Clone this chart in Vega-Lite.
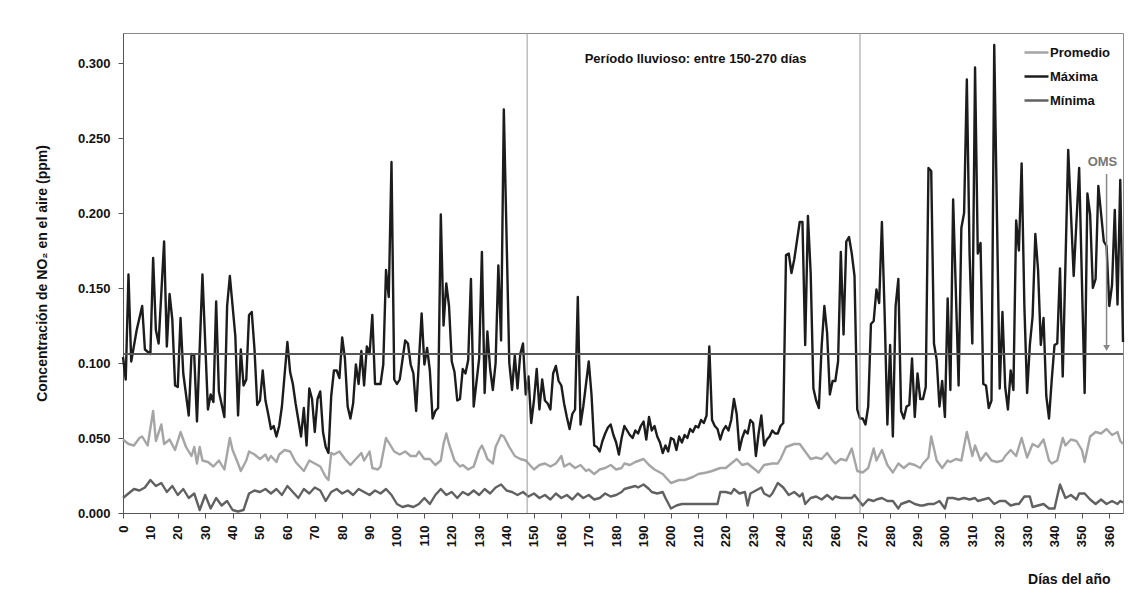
{
  "$schema": "https://vega.github.io/schema/vega-lite/v6.json",
  "width": 1000,
  "height": 480,
  "autosize": {"type": "none"},
  "padding": {"left": 123, "top": 33, "right": 14, "bottom": 91},
  "background": "white",
  "config": {
    "view": {"stroke": "#8a8a8a", "strokeWidth": 1},
    "font": "Liberation Sans",
    "axis": {"domainColor": "#555", "tickColor": "#555", "labelColor": "#111", "titleColor": "#111", "grid": false, "tickSize": 5, "labelFontSize": 13, "labelFontWeight": "bold", "titleFontSize": 14, "titleFontWeight": "bold"},
    "axisX": {"labelOverlap": false, "labelFlush": false, "labelAngle": 270, "labelAlign": "right", "labelBaseline": "middle", "labelPadding": 7, "titleAlign": "right", "titleAnchor": "end", "titleX": 987, "titleY": 66, "titleBaseline": "middle"},
    "axisY": {"labelPadding": 8, "titlePadding": 28}
  },
  "datasets": {
    "vl": [{"d": 147.5}, {"d": 269}],
    "oms": [{"v": 0.106}],
    "series": [
{"s":"Máxima","d":0,"v":0.104},{"s":"Máxima","d":1,"v":0.089},{"s":"Máxima","d":2,"v":0.159},{"s":"Máxima","d":3,"v":0.101},{"s":"Máxima","d":5,"v":0.122},{"s":"Máxima","d":7,"v":0.138},{"s":"Máxima","d":8,"v":0.109},{"s":"Máxima","d":10,"v":0.106},{"s":"Máxima","d":11,"v":0.170},{"s":"Máxima","d":12,"v":0.122},{"s":"Máxima","d":13,"v":0.113},{"s":"Máxima","d":15,"v":0.181},{"s":"Máxima","d":16,"v":0.111},{"s":"Máxima","d":17,"v":0.146},{"s":"Máxima","d":18,"v":0.129},{"s":"Máxima","d":19,"v":0.085},{"s":"Máxima","d":20,"v":0.084},{"s":"Máxima","d":21,"v":0.130},{"s":"Máxima","d":22,"v":0.093},{"s":"Máxima","d":24,"v":0.065},{"s":"Máxima","d":25,"v":0.106},{"s":"Máxima","d":26,"v":0.105},{"s":"Máxima","d":27,"v":0.061},{"s":"Máxima","d":29,"v":0.159},{"s":"Máxima","d":31,"v":0.069},{"s":"Máxima","d":32,"v":0.079},{"s":"Máxima","d":33,"v":0.074},{"s":"Máxima","d":34,"v":0.141},{"s":"Máxima","d":35,"v":0.081},{"s":"Máxima","d":37,"v":0.064},{"s":"Máxima","d":38,"v":0.138},{"s":"Máxima","d":39,"v":0.158},{"s":"Máxima","d":41,"v":0.118},{"s":"Máxima","d":42,"v":0.065},{"s":"Máxima","d":43,"v":0.109},{"s":"Máxima","d":44,"v":0.085},{"s":"Máxima","d":45,"v":0.089},{"s":"Máxima","d":46,"v":0.132},{"s":"Máxima","d":47,"v":0.134},{"s":"Máxima","d":48,"v":0.109},{"s":"Máxima","d":49,"v":0.072},{"s":"Máxima","d":50,"v":0.075},{"s":"Máxima","d":51,"v":0.095},{"s":"Máxima","d":52,"v":0.075},{"s":"Máxima","d":53,"v":0.066},{"s":"Máxima","d":54,"v":0.056},{"s":"Máxima","d":55,"v":0.058},{"s":"Máxima","d":56,"v":0.051},{"s":"Máxima","d":57,"v":0.058},{"s":"Máxima","d":58,"v":0.071},{"s":"Máxima","d":60,"v":0.114},{"s":"Máxima","d":61,"v":0.094},{"s":"Máxima","d":62,"v":0.086},{"s":"Máxima","d":63,"v":0.073},{"s":"Máxima","d":65,"v":0.051},{"s":"Máxima","d":66,"v":0.070},{"s":"Máxima","d":67,"v":0.045},{"s":"Máxima","d":68,"v":0.083},{"s":"Máxima","d":69,"v":0.076},{"s":"Máxima","d":70,"v":0.054},{"s":"Máxima","d":71,"v":0.076},{"s":"Máxima","d":72,"v":0.081},{"s":"Máxima","d":73,"v":0.054},{"s":"Máxima","d":74,"v":0.044},{"s":"Máxima","d":75,"v":0.040},{"s":"Máxima","d":76,"v":0.078},{"s":"Máxima","d":77,"v":0.095},{"s":"Máxima","d":78,"v":0.095},{"s":"Máxima","d":79,"v":0.090},{"s":"Máxima","d":80,"v":0.117},{"s":"Máxima","d":81,"v":0.103},{"s":"Máxima","d":82,"v":0.071},{"s":"Máxima","d":83,"v":0.063},{"s":"Máxima","d":84,"v":0.073},{"s":"Máxima","d":85,"v":0.099},{"s":"Máxima","d":86,"v":0.086},{"s":"Máxima","d":87,"v":0.108},{"s":"Máxima","d":88,"v":0.085},{"s":"Máxima","d":89,"v":0.111},{"s":"Máxima","d":90,"v":0.106},{"s":"Máxima","d":91,"v":0.132},{"s":"Máxima","d":92,"v":0.086},{"s":"Máxima","d":94,"v":0.086},{"s":"Máxima","d":95,"v":0.099},{"s":"Máxima","d":96,"v":0.162},{"s":"Máxima","d":97,"v":0.144},{"s":"Máxima","d":98,"v":0.234},{"s":"Máxima","d":99,"v":0.089},{"s":"Máxima","d":100,"v":0.086},{"s":"Máxima","d":101,"v":0.089},{"s":"Máxima","d":102,"v":0.102},{"s":"Máxima","d":103,"v":0.115},{"s":"Máxima","d":104,"v":0.113},{"s":"Máxima","d":105,"v":0.099},{"s":"Máxima","d":106,"v":0.093},{"s":"Máxima","d":107,"v":0.068},{"s":"Máxima","d":108,"v":0.101},{"s":"Máxima","d":109,"v":0.133},{"s":"Máxima","d":110,"v":0.099},{"s":"Máxima","d":111,"v":0.110},{"s":"Máxima","d":112,"v":0.095},{"s":"Máxima","d":113,"v":0.063},{"s":"Máxima","d":114,"v":0.068},{"s":"Máxima","d":115,"v":0.070},{"s":"Máxima","d":116,"v":0.199},{"s":"Máxima","d":117,"v":0.125},{"s":"Máxima","d":118,"v":0.153},{"s":"Máxima","d":119,"v":0.138},{"s":"Máxima","d":120,"v":0.101},{"s":"Máxima","d":121,"v":0.094},{"s":"Máxima","d":122,"v":0.075},{"s":"Máxima","d":123,"v":0.076},{"s":"Máxima","d":124,"v":0.096},{"s":"Máxima","d":125,"v":0.093},{"s":"Máxima","d":126,"v":0.102},{"s":"Máxima","d":127,"v":0.156},{"s":"Máxima","d":128,"v":0.071},{"s":"Máxima","d":130,"v":0.103},{"s":"Máxima","d":131,"v":0.174},{"s":"Máxima","d":132,"v":0.080},{"s":"Máxima","d":133,"v":0.121},{"s":"Máxima","d":134,"v":0.096},{"s":"Máxima","d":135,"v":0.082},{"s":"Máxima","d":136,"v":0.100},{"s":"Máxima","d":137,"v":0.165},{"s":"Máxima","d":138,"v":0.115},{"s":"Máxima","d":139,"v":0.269},{"s":"Máxima","d":141,"v":0.100},{"s":"Máxima","d":142,"v":0.082},{"s":"Máxima","d":143,"v":0.105},{"s":"Máxima","d":144,"v":0.083},{"s":"Máxima","d":145,"v":0.106},{"s":"Máxima","d":146,"v":0.113},{"s":"Máxima","d":147,"v":0.079},{"s":"Máxima","d":148,"v":0.091},{"s":"Máxima","d":149,"v":0.060},{"s":"Máxima","d":150,"v":0.075},{"s":"Máxima","d":151,"v":0.096},{"s":"Máxima","d":152,"v":0.069},{"s":"Máxima","d":153,"v":0.089},{"s":"Máxima","d":154,"v":0.075},{"s":"Máxima","d":155,"v":0.073},{"s":"Máxima","d":156,"v":0.069},{"s":"Máxima","d":157,"v":0.093},{"s":"Máxima","d":158,"v":0.098},{"s":"Máxima","d":159,"v":0.088},{"s":"Máxima","d":160,"v":0.085},{"s":"Máxima","d":161,"v":0.073},{"s":"Máxima","d":162,"v":0.064},{"s":"Máxima","d":163,"v":0.056},{"s":"Máxima","d":164,"v":0.066},{"s":"Máxima","d":165,"v":0.069},{"s":"Máxima","d":166,"v":0.144},{"s":"Máxima","d":167,"v":0.059},{"s":"Máxima","d":168,"v":0.071},{"s":"Máxima","d":170,"v":0.101},{"s":"Máxima","d":171,"v":0.079},{"s":"Máxima","d":172,"v":0.045},{"s":"Máxima","d":173,"v":0.044},{"s":"Máxima","d":174,"v":0.041},{"s":"Máxima","d":175,"v":0.048},{"s":"Máxima","d":176,"v":0.053},{"s":"Máxima","d":177,"v":0.057},{"s":"Máxima","d":178,"v":0.059},{"s":"Máxima","d":179,"v":0.052},{"s":"Máxima","d":180,"v":0.047},{"s":"Máxima","d":181,"v":0.039},{"s":"Máxima","d":182,"v":0.050},{"s":"Máxima","d":183,"v":0.058},{"s":"Máxima","d":184,"v":0.055},{"s":"Máxima","d":185,"v":0.052},{"s":"Máxima","d":186,"v":0.050},{"s":"Máxima","d":187,"v":0.055},{"s":"Máxima","d":188,"v":0.053},{"s":"Máxima","d":189,"v":0.058},{"s":"Máxima","d":190,"v":0.061},{"s":"Máxima","d":191,"v":0.049},{"s":"Máxima","d":192,"v":0.064},{"s":"Máxima","d":193,"v":0.055},{"s":"Máxima","d":194,"v":0.058},{"s":"Máxima","d":195,"v":0.051},{"s":"Máxima","d":196,"v":0.047},{"s":"Máxima","d":197,"v":0.040},{"s":"Máxima","d":198,"v":0.045},{"s":"Máxima","d":199,"v":0.041},{"s":"Máxima","d":200,"v":0.050},{"s":"Máxima","d":201,"v":0.049},{"s":"Máxima","d":202,"v":0.042},{"s":"Máxima","d":203,"v":0.051},{"s":"Máxima","d":204,"v":0.047},{"s":"Máxima","d":205,"v":0.052},{"s":"Máxima","d":206,"v":0.050},{"s":"Máxima","d":207,"v":0.056},{"s":"Máxima","d":208,"v":0.054},{"s":"Máxima","d":209,"v":0.058},{"s":"Máxima","d":210,"v":0.057},{"s":"Máxima","d":211,"v":0.062},{"s":"Máxima","d":212,"v":0.060},{"s":"Máxima","d":213,"v":0.065},{"s":"Máxima","d":214,"v":0.111},{"s":"Máxima","d":215,"v":0.062},{"s":"Máxima","d":216,"v":0.058},{"s":"Máxima","d":217,"v":0.056},{"s":"Máxima","d":218,"v":0.049},{"s":"Máxima","d":219,"v":0.055},{"s":"Máxima","d":220,"v":0.058},{"s":"Máxima","d":221,"v":0.055},{"s":"Máxima","d":222,"v":0.062},{"s":"Máxima","d":223,"v":0.076},{"s":"Máxima","d":224,"v":0.066},{"s":"Máxima","d":225,"v":0.042},{"s":"Máxima","d":226,"v":0.050},{"s":"Máxima","d":227,"v":0.055},{"s":"Máxima","d":228,"v":0.053},{"s":"Máxima","d":229,"v":0.062},{"s":"Máxima","d":230,"v":0.060},{"s":"Máxima","d":231,"v":0.038},{"s":"Máxima","d":232,"v":0.053},{"s":"Máxima","d":233,"v":0.065},{"s":"Máxima","d":234,"v":0.045},{"s":"Máxima","d":235,"v":0.049},{"s":"Máxima","d":236,"v":0.051},{"s":"Máxima","d":237,"v":0.055},{"s":"Máxima","d":238,"v":0.053},{"s":"Máxima","d":239,"v":0.053},{"s":"Máxima","d":240,"v":0.058},{"s":"Máxima","d":241,"v":0.060},{"s":"Máxima","d":242,"v":0.172},{"s":"Máxima","d":243,"v":0.173},{"s":"Máxima","d":244,"v":0.160},{"s":"Máxima","d":245,"v":0.169},{"s":"Máxima","d":247,"v":0.194},{"s":"Máxima","d":248,"v":0.194},{"s":"Máxima","d":249,"v":0.112},{"s":"Máxima","d":250,"v":0.198},{"s":"Máxima","d":251,"v":0.160},{"s":"Máxima","d":252,"v":0.083},{"s":"Máxima","d":253,"v":0.075},{"s":"Máxima","d":254,"v":0.070},{"s":"Máxima","d":255,"v":0.111},{"s":"Máxima","d":256,"v":0.138},{"s":"Máxima","d":257,"v":0.120},{"s":"Máxima","d":258,"v":0.079},{"s":"Máxima","d":259,"v":0.088},{"s":"Máxima","d":260,"v":0.088},{"s":"Máxima","d":261,"v":0.101},{"s":"Máxima","d":262,"v":0.174},{"s":"Máxima","d":263,"v":0.119},{"s":"Máxima","d":264,"v":0.181},{"s":"Máxima","d":265,"v":0.184},{"s":"Máxima","d":266,"v":0.173},{"s":"Máxima","d":267,"v":0.158},{"s":"Máxima","d":268,"v":0.069},{"s":"Máxima","d":269,"v":0.063},{"s":"Máxima","d":270,"v":0.063},{"s":"Máxima","d":271,"v":0.059},{"s":"Máxima","d":272,"v":0.071},{"s":"Máxima","d":273,"v":0.126},{"s":"Máxima","d":274,"v":0.128},{"s":"Máxima","d":275,"v":0.149},{"s":"Máxima","d":276,"v":0.140},{"s":"Máxima","d":277,"v":0.194},{"s":"Máxima","d":278,"v":0.133},{"s":"Máxima","d":279,"v":0.059},{"s":"Máxima","d":280,"v":0.112},{"s":"Máxima","d":281,"v":0.051},{"s":"Máxima","d":282,"v":0.138},{"s":"Máxima","d":283,"v":0.156},{"s":"Máxima","d":284,"v":0.068},{"s":"Máxima","d":285,"v":0.063},{"s":"Máxima","d":286,"v":0.071},{"s":"Máxima","d":287,"v":0.072},{"s":"Máxima","d":288,"v":0.103},{"s":"Máxima","d":289,"v":0.064},{"s":"Máxima","d":290,"v":0.093},{"s":"Máxima","d":291,"v":0.076},{"s":"Máxima","d":292,"v":0.076},{"s":"Máxima","d":293,"v":0.084},{"s":"Máxima","d":294,"v":0.230},{"s":"Máxima","d":295,"v":0.228},{"s":"Máxima","d":296,"v":0.113},{"s":"Máxima","d":297,"v":0.102},{"s":"Máxima","d":298,"v":0.071},{"s":"Máxima","d":299,"v":0.088},{"s":"Máxima","d":300,"v":0.064},{"s":"Máxima","d":301,"v":0.143},{"s":"Máxima","d":302,"v":0.082},{"s":"Máxima","d":303,"v":0.209},{"s":"Máxima","d":305,"v":0.085},{"s":"Máxima","d":306,"v":0.190},{"s":"Máxima","d":307,"v":0.200},{"s":"Máxima","d":308,"v":0.289},{"s":"Máxima","d":309,"v":0.173},{"s":"Máxima","d":310,"v":0.113},{"s":"Máxima","d":311,"v":0.297},{"s":"Máxima","d":312,"v":0.173},{"s":"Máxima","d":313,"v":0.180},{"s":"Máxima","d":314,"v":0.086},{"s":"Máxima","d":315,"v":0.085},{"s":"Máxima","d":316,"v":0.070},{"s":"Máxima","d":317,"v":0.075},{"s":"Máxima","d":318,"v":0.312},{"s":"Máxima","d":320,"v":0.083},{"s":"Máxima","d":321,"v":0.134},{"s":"Máxima","d":322,"v":0.084},{"s":"Máxima","d":323,"v":0.069},{"s":"Máxima","d":324,"v":0.095},{"s":"Máxima","d":325,"v":0.082},{"s":"Máxima","d":326,"v":0.195},{"s":"Máxima","d":327,"v":0.175},{"s":"Máxima","d":328,"v":0.233},{"s":"Máxima","d":329,"v":0.138},{"s":"Máxima","d":330,"v":0.080},{"s":"Máxima","d":331,"v":0.112},{"s":"Máxima","d":332,"v":0.131},{"s":"Máxima","d":333,"v":0.186},{"s":"Máxima","d":334,"v":0.162},{"s":"Máxima","d":335,"v":0.112},{"s":"Máxima","d":336,"v":0.130},{"s":"Máxima","d":337,"v":0.078},{"s":"Máxima","d":338,"v":0.063},{"s":"Máxima","d":339,"v":0.089},{"s":"Máxima","d":340,"v":0.112},{"s":"Máxima","d":341,"v":0.113},{"s":"Máxima","d":342,"v":0.163},{"s":"Máxima","d":343,"v":0.091},{"s":"Máxima","d":345,"v":0.242},{"s":"Máxima","d":347,"v":0.158},{"s":"Máxima","d":349,"v":0.230},{"s":"Máxima","d":351,"v":0.080},{"s":"Máxima","d":352,"v":0.213},{"s":"Máxima","d":353,"v":0.199},{"s":"Máxima","d":354,"v":0.150},{"s":"Máxima","d":355,"v":0.156},{"s":"Máxima","d":356,"v":0.218},{"s":"Máxima","d":358,"v":0.181},{"s":"Máxima","d":359,"v":0.178},{"s":"Máxima","d":360,"v":0.138},{"s":"Máxima","d":361,"v":0.152},{"s":"Máxima","d":362,"v":0.202},{"s":"Máxima","d":363,"v":0.139},{"s":"Máxima","d":364,"v":0.222},{"s":"Máxima","d":365,"v":0.114},
{"s":"Promedio","d":0,"v":0.049},{"s":"Promedio","d":2,"v":0.046},{"s":"Promedio","d":4,"v":0.045},{"s":"Promedio","d":6,"v":0.050},{"s":"Promedio","d":7,"v":0.051},{"s":"Promedio","d":9,"v":0.045},{"s":"Promedio","d":11,"v":0.068},{"s":"Promedio","d":12,"v":0.048},{"s":"Promedio","d":14,"v":0.059},{"s":"Promedio","d":15,"v":0.046},{"s":"Promedio","d":17,"v":0.049},{"s":"Promedio","d":19,"v":0.042},{"s":"Promedio","d":21,"v":0.054},{"s":"Promedio","d":23,"v":0.044},{"s":"Promedio","d":25,"v":0.038},{"s":"Promedio","d":26,"v":0.044},{"s":"Promedio","d":27,"v":0.033},{"s":"Promedio","d":28,"v":0.044},{"s":"Promedio","d":29,"v":0.035},{"s":"Promedio","d":31,"v":0.034},{"s":"Promedio","d":33,"v":0.031},{"s":"Promedio","d":35,"v":0.035},{"s":"Promedio","d":37,"v":0.029},{"s":"Promedio","d":39,"v":0.050},{"s":"Promedio","d":40,"v":0.042},{"s":"Promedio","d":42,"v":0.033},{"s":"Promedio","d":43,"v":0.028},{"s":"Promedio","d":45,"v":0.035},{"s":"Promedio","d":46,"v":0.041},{"s":"Promedio","d":48,"v":0.039},{"s":"Promedio","d":50,"v":0.036},{"s":"Promedio","d":52,"v":0.039},{"s":"Promedio","d":53,"v":0.035},{"s":"Promedio","d":54,"v":0.038},{"s":"Promedio","d":56,"v":0.034},{"s":"Promedio","d":57,"v":0.039},{"s":"Promedio","d":59,"v":0.042},{"s":"Promedio","d":61,"v":0.041},{"s":"Promedio","d":63,"v":0.034},{"s":"Promedio","d":65,"v":0.030},{"s":"Promedio","d":66,"v":0.028},{"s":"Promedio","d":68,"v":0.035},{"s":"Promedio","d":70,"v":0.033},{"s":"Promedio","d":72,"v":0.031},{"s":"Promedio","d":74,"v":0.024},{"s":"Promedio","d":75,"v":0.022},{"s":"Promedio","d":76,"v":0.040},{"s":"Promedio","d":77,"v":0.039},{"s":"Promedio","d":79,"v":0.041},{"s":"Promedio","d":81,"v":0.036},{"s":"Promedio","d":83,"v":0.032},{"s":"Promedio","d":85,"v":0.036},{"s":"Promedio","d":87,"v":0.040},{"s":"Promedio","d":88,"v":0.035},{"s":"Promedio","d":90,"v":0.041},{"s":"Promedio","d":91,"v":0.030},{"s":"Promedio","d":93,"v":0.029},{"s":"Promedio","d":94,"v":0.031},{"s":"Promedio","d":96,"v":0.050},{"s":"Promedio","d":98,"v":0.044},{"s":"Promedio","d":99,"v":0.041},{"s":"Promedio","d":101,"v":0.039},{"s":"Promedio","d":103,"v":0.041},{"s":"Promedio","d":105,"v":0.038},{"s":"Promedio","d":107,"v":0.038},{"s":"Promedio","d":108,"v":0.041},{"s":"Promedio","d":110,"v":0.036},{"s":"Promedio","d":112,"v":0.036},{"s":"Promedio","d":114,"v":0.032},{"s":"Promedio","d":116,"v":0.035},{"s":"Promedio","d":117,"v":0.046},{"s":"Promedio","d":118,"v":0.053},{"s":"Promedio","d":119,"v":0.046},{"s":"Promedio","d":121,"v":0.035},{"s":"Promedio","d":123,"v":0.031},{"s":"Promedio","d":124,"v":0.032},{"s":"Promedio","d":126,"v":0.029},{"s":"Promedio","d":128,"v":0.031},{"s":"Promedio","d":130,"v":0.042},{"s":"Promedio","d":131,"v":0.045},{"s":"Promedio","d":132,"v":0.041},{"s":"Promedio","d":133,"v":0.036},{"s":"Promedio","d":135,"v":0.033},{"s":"Promedio","d":136,"v":0.044},{"s":"Promedio","d":138,"v":0.052},{"s":"Promedio","d":139,"v":0.051},{"s":"Promedio","d":141,"v":0.044},{"s":"Promedio","d":143,"v":0.038},{"s":"Promedio","d":145,"v":0.036},{"s":"Promedio","d":147,"v":0.035},{"s":"Promedio","d":149,"v":0.031},{"s":"Promedio","d":150,"v":0.029},{"s":"Promedio","d":152,"v":0.032},{"s":"Promedio","d":154,"v":0.033},{"s":"Promedio","d":156,"v":0.031},{"s":"Promedio","d":158,"v":0.033},{"s":"Promedio","d":160,"v":0.038},{"s":"Promedio","d":161,"v":0.031},{"s":"Promedio","d":163,"v":0.033},{"s":"Promedio","d":165,"v":0.030},{"s":"Promedio","d":167,"v":0.032},{"s":"Promedio","d":169,"v":0.028},{"s":"Promedio","d":170,"v":0.029},{"s":"Promedio","d":172,"v":0.026},{"s":"Promedio","d":174,"v":0.029},{"s":"Promedio","d":176,"v":0.030},{"s":"Promedio","d":178,"v":0.032},{"s":"Promedio","d":180,"v":0.029},{"s":"Promedio","d":182,"v":0.030},{"s":"Promedio","d":183,"v":0.033},{"s":"Promedio","d":185,"v":0.032},{"s":"Promedio","d":187,"v":0.034},{"s":"Promedio","d":190,"v":0.036},{"s":"Promedio","d":192,"v":0.032},{"s":"Promedio","d":194,"v":0.029},{"s":"Promedio","d":197,"v":0.026},{"s":"Promedio","d":200,"v":0.020},{"s":"Promedio","d":203,"v":0.022},{"s":"Promedio","d":205,"v":0.022},{"s":"Promedio","d":208,"v":0.024},{"s":"Promedio","d":210,"v":0.026},{"s":"Promedio","d":213,"v":0.027},{"s":"Promedio","d":215,"v":0.028},{"s":"Promedio","d":218,"v":0.030},{"s":"Promedio","d":220,"v":0.030},{"s":"Promedio","d":222,"v":0.033},{"s":"Promedio","d":224,"v":0.036},{"s":"Promedio","d":226,"v":0.032},{"s":"Promedio","d":228,"v":0.033},{"s":"Promedio","d":230,"v":0.030},{"s":"Promedio","d":232,"v":0.027},{"s":"Promedio","d":234,"v":0.032},{"s":"Promedio","d":237,"v":0.033},{"s":"Promedio","d":239,"v":0.033},{"s":"Promedio","d":240,"v":0.036},{"s":"Promedio","d":242,"v":0.044},{"s":"Promedio","d":245,"v":0.046},{"s":"Promedio","d":247,"v":0.046},{"s":"Promedio","d":249,"v":0.041},{"s":"Promedio","d":251,"v":0.036},{"s":"Promedio","d":253,"v":0.037},{"s":"Promedio","d":255,"v":0.036},{"s":"Promedio","d":257,"v":0.040},{"s":"Promedio","d":259,"v":0.035},{"s":"Promedio","d":260,"v":0.033},{"s":"Promedio","d":262,"v":0.036},{"s":"Promedio","d":264,"v":0.035},{"s":"Promedio","d":266,"v":0.043},{"s":"Promedio","d":268,"v":0.028},{"s":"Promedio","d":270,"v":0.027},{"s":"Promedio","d":272,"v":0.030},{"s":"Promedio","d":274,"v":0.043},{"s":"Promedio","d":275,"v":0.035},{"s":"Promedio","d":277,"v":0.042},{"s":"Promedio","d":279,"v":0.032},{"s":"Promedio","d":281,"v":0.027},{"s":"Promedio","d":283,"v":0.033},{"s":"Promedio","d":285,"v":0.030},{"s":"Promedio","d":287,"v":0.033},{"s":"Promedio","d":289,"v":0.032},{"s":"Promedio","d":291,"v":0.030},{"s":"Promedio","d":292,"v":0.033},{"s":"Promedio","d":294,"v":0.037},{"s":"Promedio","d":295,"v":0.051},{"s":"Promedio","d":297,"v":0.035},{"s":"Promedio","d":299,"v":0.030},{"s":"Promedio","d":301,"v":0.035},{"s":"Promedio","d":302,"v":0.034},{"s":"Promedio","d":304,"v":0.036},{"s":"Promedio","d":306,"v":0.035},{"s":"Promedio","d":308,"v":0.054},{"s":"Promedio","d":310,"v":0.038},{"s":"Promedio","d":311,"v":0.045},{"s":"Promedio","d":313,"v":0.035},{"s":"Promedio","d":315,"v":0.040},{"s":"Promedio","d":317,"v":0.035},{"s":"Promedio","d":319,"v":0.034},{"s":"Promedio","d":321,"v":0.035},{"s":"Promedio","d":322,"v":0.038},{"s":"Promedio","d":324,"v":0.042},{"s":"Promedio","d":326,"v":0.038},{"s":"Promedio","d":328,"v":0.050},{"s":"Promedio","d":330,"v":0.037},{"s":"Promedio","d":332,"v":0.046},{"s":"Promedio","d":334,"v":0.044},{"s":"Promedio","d":336,"v":0.049},{"s":"Promedio","d":338,"v":0.035},{"s":"Promedio","d":339,"v":0.033},{"s":"Promedio","d":341,"v":0.035},{"s":"Promedio","d":343,"v":0.050},{"s":"Promedio","d":344,"v":0.045},{"s":"Promedio","d":346,"v":0.049},{"s":"Promedio","d":348,"v":0.048},{"s":"Promedio","d":350,"v":0.042},{"s":"Promedio","d":351,"v":0.034},{"s":"Promedio","d":353,"v":0.051},{"s":"Promedio","d":355,"v":0.054},{"s":"Promedio","d":357,"v":0.053},{"s":"Promedio","d":359,"v":0.056},{"s":"Promedio","d":361,"v":0.052},{"s":"Promedio","d":363,"v":0.054},{"s":"Promedio","d":364,"v":0.048},{"s":"Promedio","d":365,"v":0.046},
{"s":"Mínima","d":0,"v":0.010},{"s":"Mínima","d":2,"v":0.013},{"s":"Mínima","d":4,"v":0.016},{"s":"Mínima","d":6,"v":0.015},{"s":"Mínima","d":8,"v":0.017},{"s":"Mínima","d":10,"v":0.022},{"s":"Mínima","d":12,"v":0.018},{"s":"Mínima","d":14,"v":0.020},{"s":"Mínima","d":16,"v":0.014},{"s":"Mínima","d":18,"v":0.018},{"s":"Mínima","d":20,"v":0.012},{"s":"Mínima","d":22,"v":0.016},{"s":"Mínima","d":24,"v":0.010},{"s":"Mínima","d":26,"v":0.013},{"s":"Mínima","d":28,"v":0.002},{"s":"Mínima","d":30,"v":0.012},{"s":"Mínima","d":32,"v":0.003},{"s":"Mínima","d":34,"v":0.010},{"s":"Mínima","d":36,"v":0.005},{"s":"Mínima","d":38,"v":0.008},{"s":"Mínima","d":40,"v":0.002},{"s":"Mínima","d":42,"v":0.001},{"s":"Mínima","d":44,"v":0.002},{"s":"Mínima","d":46,"v":0.013},{"s":"Mínima","d":48,"v":0.015},{"s":"Mínima","d":50,"v":0.014},{"s":"Mínima","d":52,"v":0.016},{"s":"Mínima","d":54,"v":0.013},{"s":"Mínima","d":56,"v":0.016},{"s":"Mínima","d":58,"v":0.012},{"s":"Mínima","d":60,"v":0.018},{"s":"Mínima","d":62,"v":0.014},{"s":"Mínima","d":64,"v":0.010},{"s":"Mínima","d":66,"v":0.016},{"s":"Mínima","d":68,"v":0.013},{"s":"Mínima","d":70,"v":0.017},{"s":"Mínima","d":72,"v":0.015},{"s":"Mínima","d":74,"v":0.008},{"s":"Mínima","d":76,"v":0.014},{"s":"Mínima","d":78,"v":0.016},{"s":"Mínima","d":80,"v":0.013},{"s":"Mínima","d":82,"v":0.015},{"s":"Mínima","d":84,"v":0.012},{"s":"Mínima","d":86,"v":0.016},{"s":"Mínima","d":88,"v":0.014},{"s":"Mínima","d":90,"v":0.012},{"s":"Mínima","d":92,"v":0.015},{"s":"Mínima","d":94,"v":0.013},{"s":"Mínima","d":96,"v":0.016},{"s":"Mínima","d":98,"v":0.012},{"s":"Mínima","d":100,"v":0.006},{"s":"Mínima","d":102,"v":0.004},{"s":"Mínima","d":104,"v":0.005},{"s":"Mínima","d":106,"v":0.004},{"s":"Mínima","d":108,"v":0.006},{"s":"Mínima","d":110,"v":0.010},{"s":"Mínima","d":112,"v":0.006},{"s":"Mínima","d":114,"v":0.012},{"s":"Mínima","d":116,"v":0.016},{"s":"Mínima","d":118,"v":0.012},{"s":"Mínima","d":120,"v":0.014},{"s":"Mínima","d":122,"v":0.010},{"s":"Mínima","d":124,"v":0.014},{"s":"Mínima","d":126,"v":0.012},{"s":"Mínima","d":128,"v":0.015},{"s":"Mínima","d":130,"v":0.012},{"s":"Mínima","d":132,"v":0.016},{"s":"Mínima","d":134,"v":0.013},{"s":"Mínima","d":136,"v":0.017},{"s":"Mínima","d":138,"v":0.019},{"s":"Mínima","d":140,"v":0.015},{"s":"Mínima","d":142,"v":0.014},{"s":"Mínima","d":144,"v":0.012},{"s":"Mínima","d":146,"v":0.014},{"s":"Mínima","d":148,"v":0.011},{"s":"Mínima","d":150,"v":0.013},{"s":"Mínima","d":152,"v":0.010},{"s":"Mínima","d":154,"v":0.012},{"s":"Mínima","d":156,"v":0.009},{"s":"Mínima","d":158,"v":0.013},{"s":"Mínima","d":160,"v":0.010},{"s":"Mínima","d":162,"v":0.012},{"s":"Mínima","d":164,"v":0.009},{"s":"Mínima","d":166,"v":0.013},{"s":"Mínima","d":168,"v":0.010},{"s":"Mínima","d":170,"v":0.012},{"s":"Mínima","d":172,"v":0.009},{"s":"Mínima","d":174,"v":0.010},{"s":"Mínima","d":176,"v":0.013},{"s":"Mínima","d":178,"v":0.011},{"s":"Mínima","d":180,"v":0.012},{"s":"Mínima","d":182,"v":0.014},{"s":"Mínima","d":183,"v":0.016},{"s":"Mínima","d":185,"v":0.017},{"s":"Mínima","d":187,"v":0.018},{"s":"Mínima","d":188,"v":0.017},{"s":"Mínima","d":190,"v":0.019},{"s":"Mínima","d":192,"v":0.016},{"s":"Mínima","d":193,"v":0.014},{"s":"Mínima","d":195,"v":0.013},{"s":"Mínima","d":197,"v":0.014},{"s":"Mínima","d":198,"v":0.010},{"s":"Mínima","d":200,"v":0.003},{"s":"Mínima","d":202,"v":0.005},{"s":"Mínima","d":204,"v":0.006},{"s":"Mínima","d":207,"v":0.006},{"s":"Mínima","d":209,"v":0.006},{"s":"Mínima","d":212,"v":0.006},{"s":"Mínima","d":214,"v":0.006},{"s":"Mínima","d":217,"v":0.006},{"s":"Mínima","d":218,"v":0.014},{"s":"Mínima","d":220,"v":0.014},{"s":"Mínima","d":222,"v":0.013},{"s":"Mínima","d":223,"v":0.016},{"s":"Mínima","d":225,"v":0.013},{"s":"Mínima","d":227,"v":0.014},{"s":"Mínima","d":228,"v":0.005},{"s":"Mínima","d":229,"v":0.013},{"s":"Mínima","d":231,"v":0.015},{"s":"Mínima","d":233,"v":0.017},{"s":"Mínima","d":234,"v":0.013},{"s":"Mínima","d":236,"v":0.011},{"s":"Mínima","d":237,"v":0.013},{"s":"Mínima","d":239,"v":0.020},{"s":"Mínima","d":241,"v":0.017},{"s":"Mínima","d":243,"v":0.012},{"s":"Mínima","d":245,"v":0.014},{"s":"Mínima","d":247,"v":0.011},{"s":"Mínima","d":248,"v":0.013},{"s":"Mínima","d":249,"v":0.006},{"s":"Mínima","d":251,"v":0.010},{"s":"Mínima","d":253,"v":0.011},{"s":"Mínima","d":255,"v":0.009},{"s":"Mínima","d":257,"v":0.012},{"s":"Mínima","d":259,"v":0.009},{"s":"Mínima","d":260,"v":0.011},{"s":"Mínima","d":262,"v":0.010},{"s":"Mínima","d":264,"v":0.010},{"s":"Mínima","d":266,"v":0.010},{"s":"Mínima","d":267,"v":0.012},{"s":"Mínima","d":270,"v":0.005},{"s":"Mínima","d":272,"v":0.009},{"s":"Mínima","d":274,"v":0.008},{"s":"Mínima","d":275,"v":0.009},{"s":"Mínima","d":277,"v":0.010},{"s":"Mínima","d":279,"v":0.008},{"s":"Mínima","d":281,"v":0.008},{"s":"Mínima","d":283,"v":0.003},{"s":"Mínima","d":284,"v":0.006},{"s":"Mínima","d":287,"v":0.008},{"s":"Mínima","d":289,"v":0.006},{"s":"Mínima","d":291,"v":0.005},{"s":"Mínima","d":292,"v":0.005},{"s":"Mínima","d":294,"v":0.006},{"s":"Mínima","d":296,"v":0.006},{"s":"Mínima","d":298,"v":0.008},{"s":"Mínima","d":300,"v":0.003},{"s":"Mínima","d":301,"v":0.010},{"s":"Mínima","d":303,"v":0.010},{"s":"Mínima","d":305,"v":0.009},{"s":"Mínima","d":307,"v":0.010},{"s":"Mínima","d":309,"v":0.009},{"s":"Mínima","d":311,"v":0.010},{"s":"Mínima","d":312,"v":0.008},{"s":"Mínima","d":314,"v":0.009},{"s":"Mínima","d":316,"v":0.010},{"s":"Mínima","d":318,"v":0.006},{"s":"Mínima","d":320,"v":0.008},{"s":"Mínima","d":322,"v":0.008},{"s":"Mínima","d":324,"v":0.005},{"s":"Mínima","d":326,"v":0.006},{"s":"Mínima","d":327,"v":0.006},{"s":"Mínima","d":329,"v":0.011},{"s":"Mínima","d":331,"v":0.011},{"s":"Mínima","d":332,"v":0.004},{"s":"Mínima","d":334,"v":0.005},{"s":"Mínima","d":336,"v":0.006},{"s":"Mínima","d":338,"v":0.003},{"s":"Mínima","d":340,"v":0.003},{"s":"Mínima","d":342,"v":0.019},{"s":"Mínima","d":344,"v":0.010},{"s":"Mínima","d":346,"v":0.012},{"s":"Mínima","d":348,"v":0.009},{"s":"Mínima","d":349,"v":0.013},{"s":"Mínima","d":351,"v":0.013},{"s":"Mínima","d":353,"v":0.009},{"s":"Mínima","d":355,"v":0.006},{"s":"Mínima","d":357,"v":0.009},{"s":"Mínima","d":359,"v":0.006},{"s":"Mínima","d":361,"v":0.008},{"s":"Mínima","d":363,"v":0.006},{"s":"Mínima","d":364,"v":0.008},{"s":"Mínima","d":365,"v":0.007}
    ]
  },
  "layer": [
    {
      "data": {"name": "series"},
      "mark": {"type": "line", "strokeWidth": 2.4, "strokeJoin": "round"},
      "encoding": {
        "x": {
          "field": "d", "type": "quantitative",
          "scale": {"domain": [0, 365], "nice": false, "zero": false},
          "axis": {"title": "Días del año", "values": [0,10,20,30,40,50,60,70,80,90,100,110,120,130,140,150,160,170,180,190,200,210,220,230,240,250,260,270,280,290,300,310,320,330,340,350,360]}
        },
        "y": {
          "field": "v", "type": "quantitative",
          "scale": {"domain": [0, 0.32], "nice": false},
          "axis": {"title": "Concentración de NO₂ en el aire (ppm)", "values": [0, 0.05, 0.1, 0.15, 0.2, 0.25, 0.3], "format": ".3f"}
        },
        "color": {
          "field": "s", "type": "nominal",
          "scale": {"domain": ["Promedio", "Máxima", "Mínima"], "range": ["#a5a5a5", "#1c1c1c", "#616161"]},
          "legend": {
            "title": null, "orient": "none", "legendX": 900, "legendY": 6,
            "symbolType": "stroke", "symbolSize": 576, "symbolStrokeWidth": 2.5,
            "labelFontSize": 13, "labelFontWeight": "bold", "labelColor": "#111", "labelOffset": 0,
            "rowPadding": 3, "padding": 0
          }
        }
      }
    },
    {
      "data": {"name": "vl"},
      "mark": {"type": "rule", "color": "#9a9a9a", "strokeWidth": 1},
      "encoding": {"x": {"field": "d", "type": "quantitative", "axis": {"title": "Días del año", "values": [0,10,20,30,40,50,60,70,80,90,100,110,120,130,140,150,160,170,180,190,200,210,220,230,240,250,260,270,280,290,300,310,320,330,340,350,360]}}}
    },
    {
      "data": {"name": "oms"},
      "mark": {"type": "rule", "color": "#575757", "strokeWidth": 2},
      "encoding": {"y": {"field": "v", "type": "quantitative", "axis": {"title": "Concentración de NO₂ en el aire (ppm)", "values": [0, 0.05, 0.1, 0.15, 0.2, 0.25, 0.3], "format": ".3f"}}}
    },
    {
      "data": {"values": [{"t": "Período lluvioso: entre 150-270 días"}]},
      "mark": {"type": "text", "font": "Liberation Sans", "fontSize": 13, "fontWeight": "bold", "color": "#111"},
      "encoding": {
        "x": {"datum": 209, "type": "quantitative", "axis": {"title": "Días del año", "values": [0,10,20,30,40,50,60,70,80,90,100,110,120,130,140,150,160,170,180,190,200,210,220,230,240,250,260,270,280,290,300,310,320,330,340,350,360]}},
        "y": {"datum": 0.303, "type": "quantitative", "axis": {"title": "Concentración de NO₂ en el aire (ppm)", "values": [0, 0.05, 0.1, 0.15, 0.2, 0.25, 0.3], "format": ".3f"}},
        "text": {"field": "t"}
      }
    },
    {
      "data": {"values": [{"t": "OMS"}]},
      "mark": {"type": "text", "font": "Liberation Sans", "fontSize": 13, "fontWeight": "bold", "color": "#777"},
      "encoding": {
        "x": {"datum": 357.5, "type": "quantitative", "axis": {"title": "Días del año", "values": [0,10,20,30,40,50,60,70,80,90,100,110,120,130,140,150,160,170,180,190,200,210,220,230,240,250,260,270,280,290,300,310,320,330,340,350,360]}},
        "y": {"datum": 0.234, "type": "quantitative", "axis": {"title": "Concentración de NO₂ en el aire (ppm)", "values": [0, 0.05, 0.1, 0.15, 0.2, 0.25, 0.3], "format": ".3f"}},
        "text": {"field": "t"}
      }
    },
    {
      "data": {"values": [{}]},
      "mark": {"type": "rule", "color": "#888", "strokeWidth": 1.5},
      "encoding": {
        "x": {"datum": 359, "type": "quantitative", "axis": {"title": "Días del año", "values": [0,10,20,30,40,50,60,70,80,90,100,110,120,130,140,150,160,170,180,190,200,210,220,230,240,250,260,270,280,290,300,310,320,330,340,350,360]}},
        "y": {"datum": 0.226, "type": "quantitative", "axis": {"title": "Concentración de NO₂ en el aire (ppm)", "values": [0, 0.05, 0.1, 0.15, 0.2, 0.25, 0.3], "format": ".3f"}},
        "y2": {"datum": 0.111}
      }
    },
    {
      "data": {"values": [{}]},
      "mark": {"type": "point", "shape": "triangle-down", "filled": true, "color": "#888", "size": 45, "opacity": 1},
      "encoding": {
        "x": {"datum": 359, "type": "quantitative", "axis": {"title": "Días del año", "values": [0,10,20,30,40,50,60,70,80,90,100,110,120,130,140,150,160,170,180,190,200,210,220,230,240,250,260,270,280,290,300,310,320,330,340,350,360]}},
        "y": {"datum": 0.110, "type": "quantitative", "axis": {"title": "Concentración de NO₂ en el aire (ppm)", "values": [0, 0.05, 0.1, 0.15, 0.2, 0.25, 0.3], "format": ".3f"}}
      }
    }
  ]
}
